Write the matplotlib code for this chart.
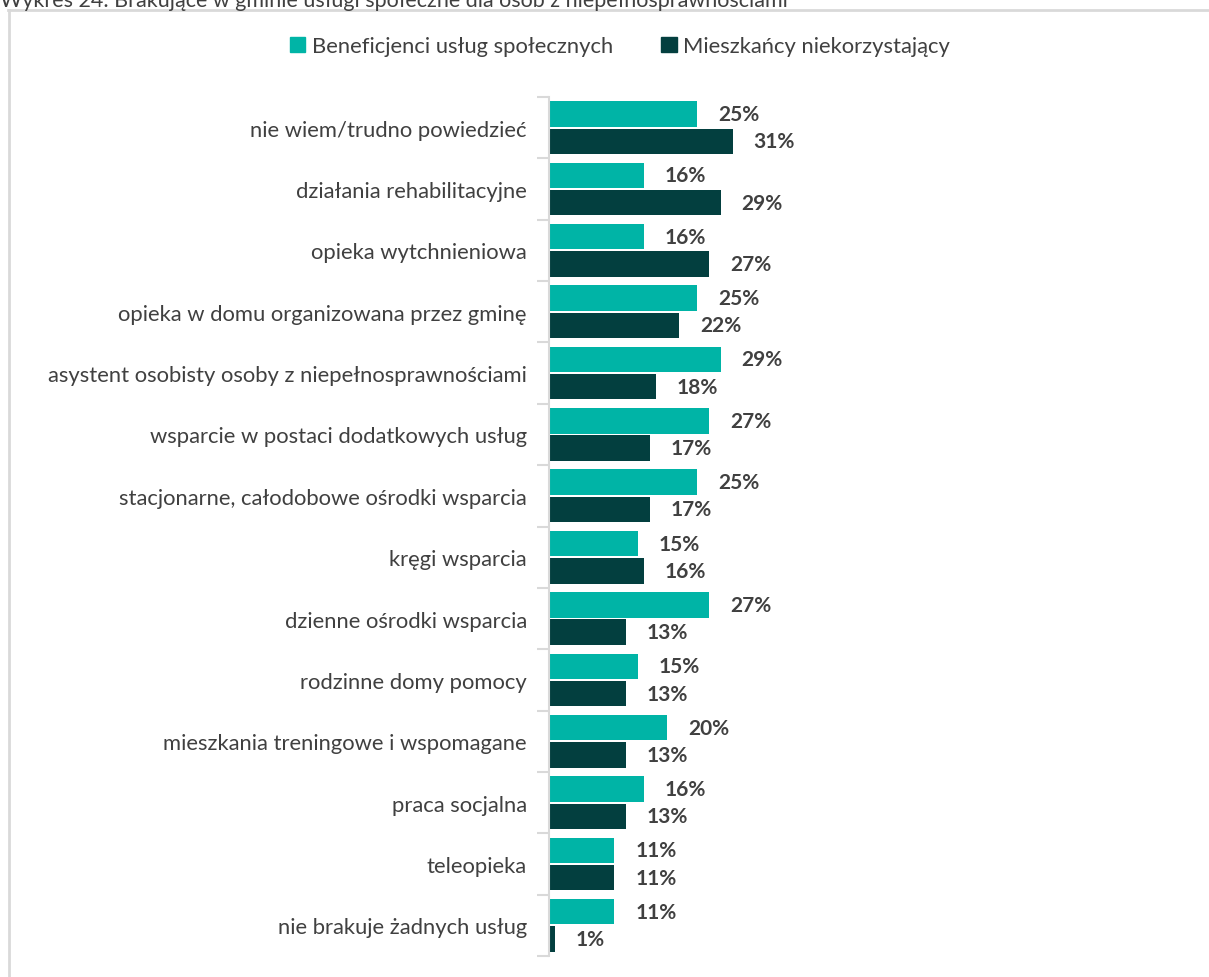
import numpy as np
import matplotlib.pyplot as plt
from matplotlib.lines import Line2D
from matplotlib.patches import Patch

plt.rcParams['font.family'] = ['Lato', 'DejaVu Sans']

# dane
kategorie = ['nie wiem/trudno powiedzieć', 'działania rehabilitacyjne', 'opieka wytchnieniowa',
             'opieka w domu organizowana przez gminę', 'asystent osobisty osoby z niepełnosprawnościami',
             'wsparcie w postaci dodatkowych usług', 'stacjonarne, całodobowe ośrodki wsparcia',
             'kręgi wsparcia', 'dzienne ośrodki wsparcia', 'rodzinne domy pomocy',
             'mieszkania treningowe i wspomagane', 'praca socjalna', 'teleopieka',
             'nie brakuje żadnych usług']
beneficjenci = [25, 16, 16, 25, 29, 27, 25, 15, 27, 15, 20, 16, 11, 11]
mieszkancy = [31, 29, 27, 22, 18, 17, 17, 16, 13, 13, 13, 13, 11, 1]
serie = ['Beneficjenci usług społecznych', 'Mieszkańcy niekorzystający']

kolor1 = '#00b4a6'
kolor2 = '#033f3f'

W, H = 1209, 978
fig = plt.figure(figsize=(W / 100, H / 100), dpi=100)

# ramka wykresu
fig.add_artist(Line2D([8 / W, 1], [1 - 11 / H, 1 - 11 / H], color='#d9d9d9', lw=2))
fig.add_artist(Line2D([9 / W, 9 / W], [0, 1 - 11 / H], color='#d9d9d9', lw=2))

# tytul (przyciety u gory)
fig.text(0, 1 - 7 / H, 'Wykres 24. Brakujące w gminie usługi społeczne dla osób z niepełnosprawnościami',
         fontsize=15.5, color='#404040', va='baseline', ha='left')

ax = fig.add_axes([549 / W, 1 - 957 / H, (1180 - 549) / W, (957 - 98) / H])
n = len(kategorie)
y = np.arange(n)
h = 0.415
ax.barh(y - h / 2 - 0.015, beneficjenci, height=h, color=kolor1)
ax.barh(y + h / 2 + 0.015, mieszkancy, height=h, color=kolor2)
ax.set_ylim(n - 0.5, -0.5)
ax.set_xlim(0, 631 / 5.92)

px = 21 / 5.92
for i in range(n):
    ax.text(beneficjenci[i] + px, y[i] - h / 2 - 0.015, f'{beneficjenci[i]}%', va='center', ha='left',
            fontsize=15, fontweight='bold', color='#404040')
    ax.text(mieszkancy[i] + px, y[i] + h / 2 + 0.015, f'{mieszkancy[i]}%', va='center', ha='left',
            fontsize=15, fontweight='bold', color='#404040')

for s in ['top', 'right', 'bottom']:
    ax.spines[s].set_visible(False)
ax.spines['left'].set_color('#d9d9d9')
ax.spines['left'].set_linewidth(1.5)
ax.set_xticks([])
ax.set_yticks(np.arange(n + 1) - 0.5)
ax.set_yticklabels([])
ax.set_yticks(y, minor=True)
ax.set_yticklabels(kategorie, minor=True, fontsize=15.8, color='#404040')
ax.tick_params(axis='y', which='major', length=9, color='#d9d9d9', width=1.5)
ax.tick_params(axis='y', which='minor', length=0, pad=16)

uchwyty = [Patch(color=kolor1), Patch(color=kolor2)]
fig.legend(uchwyty, serie, loc='center', bbox_to_anchor=(620 / W, 1 - 47 / H), ncol=2, frameon=False,
           fontsize=15.8, handlelength=0.7, handleheight=0.7, handletextpad=0.3, columnspacing=2.2,
           labelcolor='#404040')

fig.savefig('out.png', dpi=100)
